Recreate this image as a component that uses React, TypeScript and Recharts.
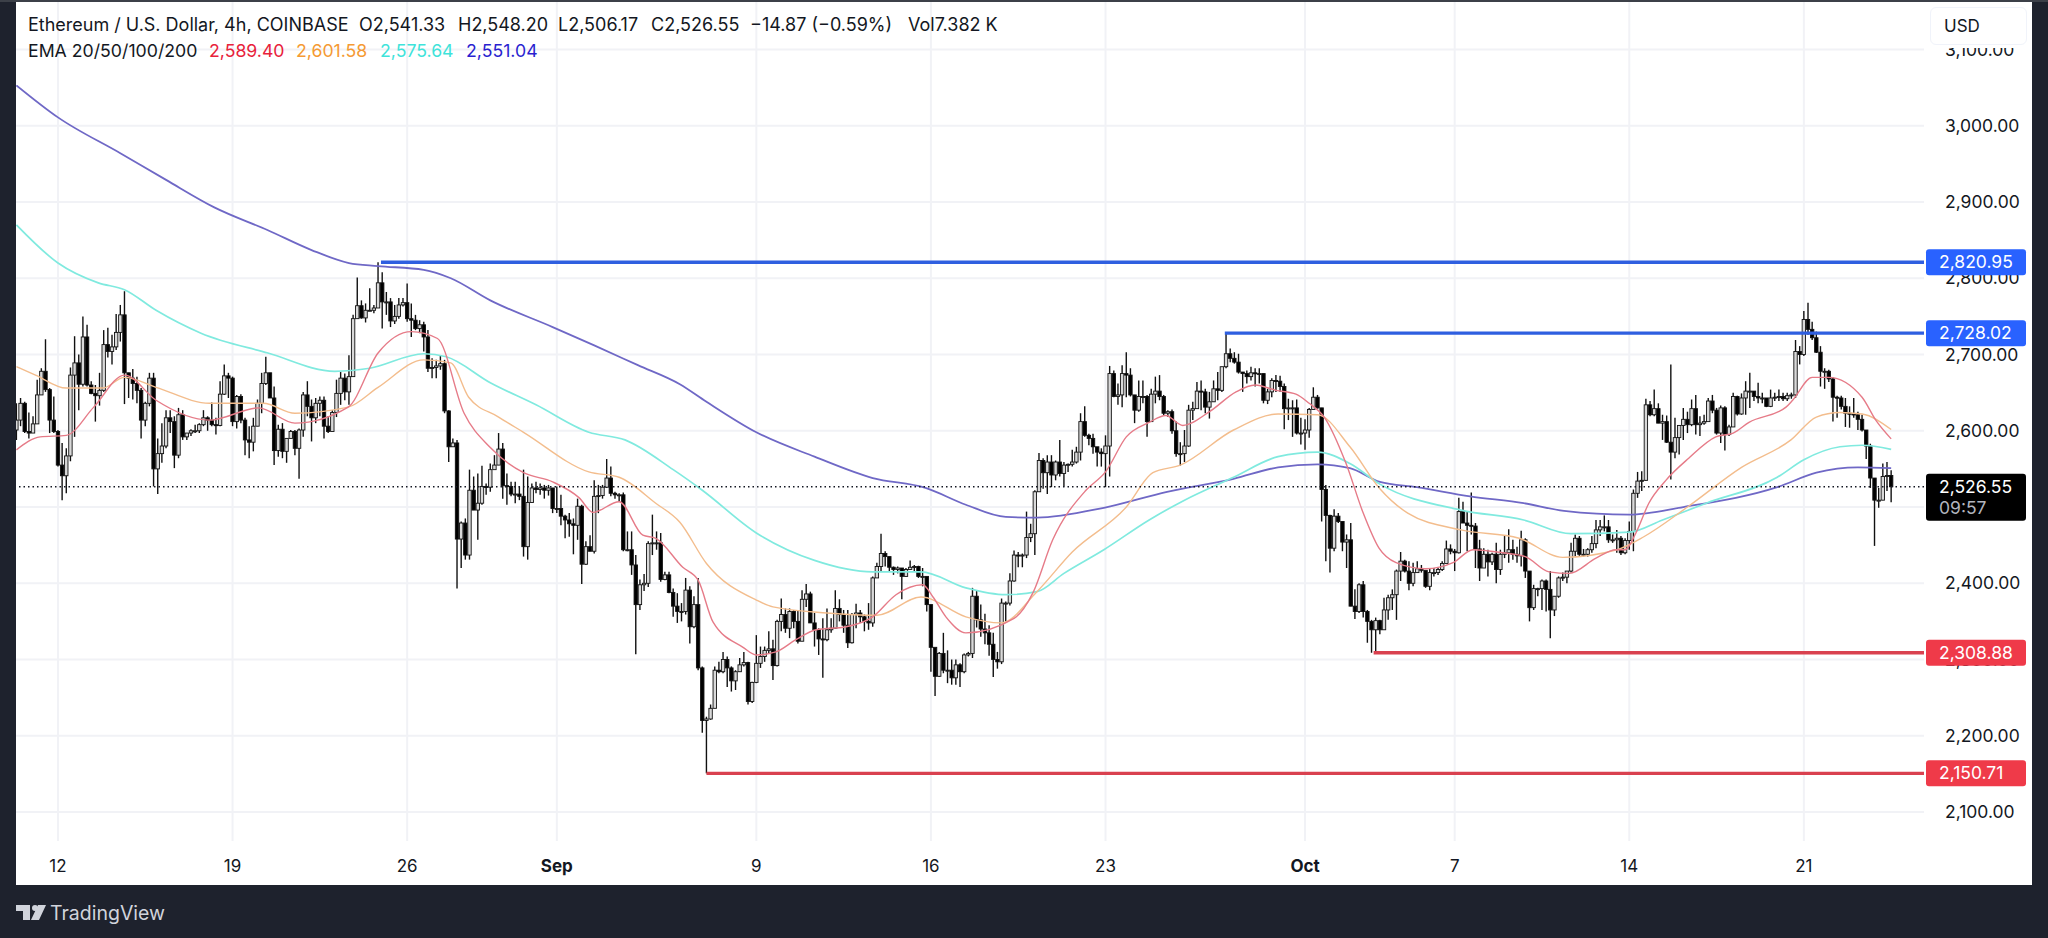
import React from "react";
import { ComposedChart, Bar, Line, XAxis, YAxis, CartesianGrid, ReferenceLine } from "recharts";

const FONT = "Inter, 'Liberation Sans', sans-serif";
const firstBar = -10;
const firstOpen = 2601;

const closes = [
2614,2636,2599,2597,2609,2647,2678,2654,2614,2599,
2555,2541,2567,2673,2689,2661,2723,2660,2649,2646,
2653,2713,2704,2710,2729,2752,2676,2669,2662,2653,
2614,2636,2669,2550,2570,2580,2617,2612,2568,2621,
2592,2597,2600,2600,2608,2617,2614,2608,2607,2648,
2672,2669,2612,2645,2614,2588,2585,2606,2636,2662,
2676,2643,2574,2602,2573,2590,2599,2577,2601,2647,
2632,2617,2636,2640,2606,2599,2624,
2649,2669,2651,2671,2747,2764,2748,2758,2758,2761,
2794,2769,2769,2744,2750,2765,2768,2747,2745,2734,
2739,2723,2682,2683,2685,2688,2626,2579,2584,2458,
2479,2437,2522,2496,2505,2527,2526,2549,2555,2576,
2528,2527,2517,2517,2514,2448,2506,2525,2523,2525,
2522,2525,2498,2498,2488,2483,2478,2476,2501,2425,
2448,2442,2514,2515,2526,2538,2518,2516,2516,2444,
2444,2424,2372,2398,2400,2452,2453,2453,2405,2411,
2388,2370,2363,2363,2391,2343,2372,2289,2220,2222,
2236,2286,2284,2300,2289,2272,2284,2293,2296,2245,
2270,2295,2304,2312,2314,2292,2350,2359,2341,2363,
2350,2324,2379,2386,2348,2339,2327,2326,2339,2341,
2367,2359,2345,2322,2359,2361,2356,2350,2348,2407,
2422,2439,2435,2421,2418,2420,2409,2418,2421,2422,
2409,2409,2372,2316,2278,2308,2286,2286,2276,2293,
2284,2306,2308,2383,2352,2340,2335,2320,2300,2297,
2374,2374,2403,2437,2436,2437,2460,2465,2520,2561,
2545,2559,2542,2559,2544,2555,2556,2559,2572,2612,
2594,2590,2579,2572,2570,2580,2675,2645,2647,2675,
2673,2647,2627,2645,2645,2612,2648,2652,2645,2623,
2625,2600,2570,2570,2580,2627,2629,2652,2651,2631,
2638,2655,2653,2684,2701,2695,2690,2677,2675,2671,
2676,2675,2675,2640,2651,2666,2665,2658,2629,2630,
2630,2597,2597,2601,2628,2644,2630,2523,2489,2446,
2488,2481,2454,2457,2370,2363,2398,2363,2350,2339,
2351,2339,2365,2381,2385,2416,2429,2416,2400,2414,
2419,2417,2396,2414,2414,2418,2426,2445,2442,2440,
2494,2479,2476,2475,2445,2420,2438,2428,2438,2418,
2438,2440,2444,2438,2436,2457,2416,2368,2393,2393,
2403,2392,2365,2383,2407,2408,2416,2442,2459,2438,
2438,2444,2452,2470,2474,2474,2457,2457,2459,2440,
2456,2468,2518,2534,2535,2634,2621,2629,2610,2612,
2585,2572,2591,2607,2615,2608,2629,2608,2610,2612,
2639,2627,2597,2630,2595,2605,2645,2622,2643,2652,
2652,2645,2643,2643,2632,2643,2644,2645,2642,2646,
2647,2704,2700,2746,2733,2722,2703,2678,2678,2668,
2644,2643,2632,2623,2622,2621,2615,2601,2580,2538,
2509,2509,2540,2541.33,2526.55,
];

const highs = [
2636,2643,2638,2624,2619,2667,2682,2720,2656,2645,
2601,2584,2577,2683,2724,2700,2750,2739,2665,2660,
2676,2732,2735,2726,2753,2765,2783,2676,2681,2671,
2656,2638,2676,2676,2590,2610,2627,2627,2619,2630,
2627,2597,2602,2608,2610,2627,2619,2637,2617,2665,
2687,2676,2671,2647,2648,2617,2606,2617,2641,2676,
2697,2676,2658,2608,2610,2590,2601,2601,2603,2651,
2665,2641,2643,2645,2645,2619,2627,
2667,2677,2675,2699,2752,2801,2771,2767,2787,2765,
2820.95,2808,2782,2774,2765,2774,2774,2793,2767,2752,
2745,2743,2732,2695,2693,2699,2693,2627,2590,2588,
2481,2485,2549,2540,2544,2554,2531,2557,2568,2597,
2584,2544,2533,2533,2527,2549,2540,2531,2533,2531,
2529,2529,2518,2527,2516,2490,2492,2485,2511,2503,
2455,2463,2535,2529,2529,2563,2553,2520,2518,2519,
2468,2468,2437,2405,2412,2455,2490,2468,2466,2415,
2415,2393,2387,2374,2407,2396,2383,2407,2291,2225,
2241,2291,2297,2310,2304,2291,2286,2302,2310,2297,
2271,2332,2317,2317,2337,2326,2352,2380,2367,2367,
2365,2365,2391,2399,2389,2361,2341,2354,2367,2354,
2391,2379,2365,2365,2361,2373,2365,2359,2374,2409,
2427,2465,2442,2435,2422,2422,2420,2420,2430,2424,
2423,2420,2409,2372,2315,2310,2335,2312,2300,2300,
2295,2308,2310,2394,2390,2372,2360,2345,2335,2310,
2380,2376,2413,2443,2441,2439,2494,2478,2522,2571,
2564,2568,2568,2561,2588,2559,2557,2575,2579,2623,
2632,2596,2596,2577,2577,2594,2685,2679,2662,2686,
2703,2682,2647,2666,2666,2647,2655,2671,2673,2647,
2627,2628,2612,2585,2601,2634,2638,2664,2666,2655,
2651,2666,2677,2684,2728.02,2708,2703,2701,2677,2679,
2684,2682,2682,2675,2655,2669,2673,2672,2662,2642,
2640,2641,2617,2615,2630,2657,2647,2630,2529,2490,
2497,2492,2481,2464,2479,2392,2400,2403,2365,2352,
2355,2352,2381,2385,2392,2418,2441,2431,2429,2427,
2429,2424,2416,2420,2420,2420,2429,2456,2451,2445,
2512,2507,2494,2519,2479,2457,2446,2444,2440,2453,
2444,2462,2471,2457,2448,2469,2459,2416,2398,2394,
2405,2405,2416,2383,2409,2414,2416,2453,2464,2462,
2445,2446,2462,2483,2483,2489,2483,2464,2470,2462,
2459,2481,2523,2546,2547,2642,2639,2654,2636,2621,
2620,2687,2617,2607,2630,2625,2641,2647,2619,2621,
2643,2647,2630,2633,2632,2608,2650,2646,2649,2665,
2676,2652,2663,2650,2641,2654,2650,2654,2650,2650,
2650,2719,2711,2757,2768,2743,2730,2711,2682,2680,
2670,2646,2646,2643,2632,2643,2625,2621,2601,2583,
2538,2525,2557,2559,2548.2,
];

const lows = [
2588,2606,2597,2590,2597,2609,2647,2651,2597,2597,
2553,2509,2518,2560,2592,2627,2658,2658,2648,2612,
2633,2651,2696,2687,2706,2717,2635,2643,2641,2636,
2590,2606,2632,2527,2517,2558,2577,2597,2551,2564,
2588,2588,2593,2597,2597,2606,2600,2606,2595,2606,
2647,2643,2606,2603,2610,2568,2564,2573,2606,2623,
2660,2643,2555,2566,2564,2558,2590,2568,2537,2592,
2619,2586,2610,2619,2590,2597,2601,
2618,2634,2640,2634,2671,2747,2747,2742,2757,2754,
2765,2734,2752,2736,2740,2747,2763,2743,2723,2732,
2728,2704,2677,2669,2669,2680,2623,2559,2579,2393,
2420,2431,2431,2496,2457,2503,2516,2520,2553,2555,
2511,2503,2514,2505,2509,2435,2431,2506,2518,2516,
2511,2515,2492,2492,2476,2459,2461,2438,2457,2399,
2424,2442,2439,2492,2511,2525,2514,2511,2507,2442,
2442,2411,2307,2365,2390,2395,2437,2444,2402,2404,
2387,2356,2348,2350,2359,2321,2341,2286,2204,2150.71,
2221,2236,2282,2282,2264,2258,2260,2284,2291,2241,
2243,2269,2289,2297,2308,2273,2291,2337,2335,2328,
2341,2321,2324,2369,2348,2317,2306,2276,2324,2335,
2340,2350,2335,2315,2321,2341,2348,2337,2339,2343,
2407,2415,2422,2415,2411,2413,2379,2409,2418,2415,
2407,2396,2363,2284,2252,2277,2282,2269,2267,2267,
2264,2282,2304,2302,2342,2330,2320,2305,2277,2288,
2294,2350,2371,2402,2421,2421,2433,2454,2437,2520,
2524,2517,2526,2535,2540,2527,2546,2553,2557,2561,
2592,2581,2570,2553,2553,2526,2540,2644,2634,2631,
2644,2645,2610,2625,2636,2592,2612,2636,2640,2620,
2618,2596,2566,2554,2559,2579,2614,2629,2627,2623,
2616,2638,2640,2651,2682,2690,2688,2675,2651,2662,
2666,2658,2662,2636,2635,2644,2651,2651,2602,2614,
2592,2595,2582,2575,2591,2628,2629,2481,2429,2414,
2442,2479,2442,2420,2370,2353,2361,2355,2322,2308.88,
2311,2333,2339,2352,2365,2352,2403,2414,2391,2396,
2414,2414,2394,2391,2409,2411,2416,2427,2438,2416,
2439,2479,2442,2464,2420,2403,2422,2409,2424,2400,
2411,2433,2427,2431,2427,2422,2407,2350,2365,2383,
2365,2363,2328,2357,2381,2403,2400,2414,2435,2435,
2435,2435,2440,2446,2462,2468,2453,2453,2440,2437,
2438,2444,2442,2512,2521,2534,2619,2619,2610,2588,
2584,2536,2564,2569,2588,2597,2606,2595,2593,2608,
2619,2623,2595,2584,2574,2593,2606,2620,2621,2621,
2630,2639,2636,2636,2631,2631,2639,2639,2639,2639,
2642,2643,2687,2698,2726,2719,2702,2658,2655,2664,
2612,2617,2628,2605,2604,2617,2601,2599,2563,2525,
2449,2499,2509,2521,2506.17,
];

const ema200 = [
[-10,3053],[0,3011],[15,2964],[26,2929],[37.6,2893],[50.5,2863],[61,2837],[70,2820],[77,2816],[88,2811],[94.5,2800],[104,2771],[119,2736],[129,2712],[139.5,2686],[149.6,2661],[156,2638],[168,2598],[182,2566],[196,2538],[208.7,2525],[218.4,2503],[228,2487],[235.5,2486],[251.6,2499],[266.8,2520],[282.8,2537],[293.5,2552],[303,2556],[310.8,2551],[318,2533],[326.9,2526],[339.7,2514],[352.6,2505],[362.3,2495],[378,2490],[391,2500],[413.6,2526],[423,2545],[433,2552],[441,2551.04],
];
const ema100 = [
[-10,2870],[0,2820],[9.7,2794],[16,2785],[23.6,2758],[34.4,2728],[50.5,2702],[66.6,2678],[75,2682],[88,2701],[93.4,2697],[104,2663],[115,2634],[127.7,2598],[136.4,2588],[148,2549],[155,2522],[168,2466],[182,2430],[196,2415],[207.6,2415],[218.4,2394],[228,2385],[235.5,2389],[242,2413],[251.6,2444],[262.5,2483],[271,2509],[282.8,2539],[293.5,2566],[303,2572],[310.8,2557],[318,2530],[337.5,2496],[352.6,2483],[364,2465],[378,2467],[386,2483],[396.5,2505],[413.6,2539],[420,2562],[428.7,2579],[434,2581],[441,2575.64],
];
const ema50 = [
[-10,2684],[-5.4,2673],[2,2656],[10.7,2656],[16,2670],[23.6,2657],[36.5,2636],[49.4,2636],[57,2623],[69.8,2631],[77,2657],[88,2693],[94.5,2689],[98.8,2644],[106,2618],[112,2598],[127.7,2546],[135,2539],[143.8,2505],[149.6,2480],[156,2426],[168,2378],[172,2369],[185,2361],[197,2358],[207.6,2382],[218.4,2356],[226.9,2348],[235.5,2389],[244,2441],[257,2500],[263.4,2545],[270,2555],[282.8,2601],[293.5,2622],[303,2621],[310.8,2579],[318,2524],[324.7,2492],[337.5,2470],[351.5,2459],[362,2434],[375,2444],[381.5,2461],[392,2500],[405,2552],[416.9,2588],[423,2618],[428.6,2624],[434,2622],[441,2601.58],
];
const ema20 = [
[-10,2575],[-4.3,2592],[2,2594],[8.6,2631],[16,2673],[23.6,2640],[36.5,2614],[48.3,2630],[57,2610],[69.8,2631],[77,2702],[85,2730],[91.3,2721],[97.7,2623],[104,2578],[112,2545],[119,2533],[125.4,2512],[128.7,2493],[135,2507],[140.7,2463],[143.8,2459],[150.3,2421],[154,2404],[157.6,2349],[164.8,2316],[168,2306],[172.7,2310],[177.5,2326],[182.4,2339],[189.6,2343],[196,2356],[201.6,2385],[208,2398],[210.5,2382],[213.6,2356],[218.4,2335],[230,2354],[234.5,2387],[239.3,2457],[247.3,2522],[252,2546],[257,2592],[262.5,2611],[266.5,2620],[270.6,2607],[277,2625],[283.4,2651],[288,2660],[293,2653],[297.8,2648],[301,2636],[304.6,2618],[309.8,2558],[314,2492],[317.8,2446],[321.9,2427],[329,2419],[335.6,2427],[340.4,2444],[347.6,2440],[353,2435],[358.7,2415],[363.6,2413],[370,2433],[374.8,2444],[377,2444],[379.6,2466],[382.7,2505],[386.8,2535],[392.3,2564],[398.8,2592],[403,2597],[406.8,2611],[415.7,2631],[417.3,2640],[422,2670],[426,2670],[434,2644],[437.3,2614],[441,2589.4],
];

const priceTicks = [2100,2200,2300,2400,2500,2600,2700,2800,2900,3000,3100];
const timeTicks = [0,42,84,120,168,210,252,300,336,378,420];
const timeLabels = ["12","19","26","Sep","9","16","23","Oct","7","14","21"];
const monthLabels = ["Sep","Oct"];
const levelsBlue = [{ start: 77.7, price: 2820.95 }, { start: 280.7, price: 2728.02 }];
const levelsRed = [{ start: 316.5, price: 2308.88 }, { start: 156, price: 2150.71 }];
const lastPrice = 2526.55;
const countdown = "09:57";
const rightEnd = 448.9;
const tagPrices = [2150.71, 2308.88, 2526.55, 2728.02, 2820.95];
const tagFills: Record<number, string> = { 2150.71: "#ef3a49", 2308.88: "#ef3a49", 2526.55: "#000", 2728.02: "#2962ff", 2820.95: "#2962ff" };
const Y_DOMAIN = [2062, 3162.3];

const fmt = (v: number) => v.toLocaleString("en-US", { minimumFractionDigits: 2, maximumFractionDigits: 2 });
const candles = closes.map((close, k) => ({
  i: firstBar + k,
  open: k === 0 ? firstOpen : closes[k - 1],
  high: highs[k],
  low: lows[k],
  close,
}));
const toPts = (a: number[][]) => a.map(([i, v]) => ({ i, v }));

function Candle(props: any) {
  const { x, y, width, height, payload } = props;
  const { open, high, low, close } = payload;
  const top = Math.min(y, y + height);
  const h = Math.abs(height);
  const k = h / Math.max(high - low, 0.01);
  const cx = x + width / 2;
  const yO = top + (high - open) * k;
  const yC = top + (high - close) * k;
  const up = close >= open;
  const by = Math.min(yO, yC);
  const bh = Math.max(Math.abs(yO - yC), 1);
  return (
    <g>
      <line x1={cx} x2={cx} y1={top} y2={top + h} stroke="#111" strokeWidth={1.4} />
      <rect x={cx - 1.7} y={by} width={3.4} height={bh} fill={up ? "#d9d9d9" : "#000"} stroke="#111" strokeWidth={0.9} />
    </g>
  );
}

function TagTick(props: any) {
  const { y, payload, plotRight } = props;
  const value = payload.value;
  const isLast = value === lastPrice;
  const tx = plotRight + 15;
  return (
    <g>
      <rect x={plotRight + 2} y={y - 13} width={100} height={isLast ? 47 : 26} rx={3} fill={tagFills[value]} />
      <text x={tx} y={y + 6} fontSize={17.5} fontFamily={FONT} fill="#fff">{fmt(value)}</text>
      {isLast && <text x={tx} y={y + 27} fontSize={17.5} fontFamily={FONT} fill="#b2b5be">{countdown}</text>}
    </g>
  );
}

function TimeTick(props: any) {
  const { x, y, payload } = props;
  const label = timeLabels[timeTicks.indexOf(payload.value)];
  const bold = monthLabels.includes(label);
  return (
    <text x={x} y={y + 23} textAnchor="middle" fontSize={17} fontFamily={FONT} fontWeight={bold ? 700 : 400} fill="#131722">
      {label}
    </text>
  );
}

const head: React.CSSProperties = { position: "absolute", fontFamily: FONT, color: "#131722", whiteSpace: "pre", lineHeight: "20px" };
const line1 = [
  { x: 28, t: "Ethereum / U.S. Dollar, 4h, COINBASE" },
  { x: 359, t: "O2,541.33" },
  { x: 458, t: "H2,548.20" },
  { x: 558, t: "L2,506.17" },
  { x: 651, t: "C2,526.55" },
  { x: 750, t: "−14.87 (−0.59%)" },
  { x: 908, t: "Vol7.382 K" },
];
const line2 = [
  { x: 28, t: "EMA 20/50/100/200", c: "#131722" },
  { x: 209, t: "2,589.40", c: "#e8213a" },
  { x: 296, t: "2,601.58", c: "#f59a33" },
  { x: 380, t: "2,575.64", c: "#3fe3da" },
  { x: 466, t: "2,551.04", c: "#2a1fd0" },
];

export default function App() {
  return (
    <div style={{ position: "absolute", left: 0, top: 0, width: 2048, height: 938, background: "#1e222d", overflow: "hidden" }}>
      <div style={{ position: "absolute", left: 0, top: 0, width: 2048, height: 2, background: "#3c4048" }} />
      <div style={{ position: "absolute", left: 16, top: 2, width: 2016, height: 883, background: "#fff" }} />
      <div style={{ position: "absolute", left: 0, top: 0 }}>
        <ComposedChart width={2048} height={938} data={candles} margin={{ top: 2, left: 16, right: 15, bottom: 53 }}>
          <CartesianGrid stroke="#f1f2f6" strokeWidth={2} syncWithTicks />
          <XAxis
            type="number"
            dataKey="i"
            domain={[firstBar - 0.1, rightEnd]}
            ticks={timeTicks}
            tick={<TimeTick />}
            tickLine={false}
            axisLine={false}
            height={44}
            allowDataOverflow
            interval={0}
          />
          <YAxis
            orientation="right"
            type="number"
            domain={Y_DOMAIN}
            ticks={priceTicks}
            tickFormatter={fmt}
            tick={{ fontSize: 17.5, fontFamily: FONT, fill: "#131722", textAnchor: "start" }}
            tickLine={false}
            axisLine={false}
            width={108}
            tickMargin={15}
            allowDataOverflow
            interval={0}
          />
          <YAxis
            yAxisId="tags"
            orientation="right"
            type="number"
            domain={Y_DOMAIN}
            ticks={tagPrices}
            tick={<TagTick plotRight={1924} />}
            tickLine={false}
            axisLine={false}
            width={1}
            allowDataOverflow
            interval={0}
          />
          <Line data={toPts(ema200)} dataKey="v" type="monotone" stroke="#6f68c6" strokeWidth={1.8} dot={false} isAnimationActive={false} />
          <Line data={toPts(ema100)} dataKey="v" type="monotone" stroke="#80eadf" strokeWidth={1.7} dot={false} isAnimationActive={false} />
          <Line data={toPts(ema50)} dataKey="v" type="monotone" stroke="#f3bd8d" strokeWidth={1.4} dot={false} isAnimationActive={false} />
          <Line data={toPts(ema20)} dataKey="v" type="monotone" stroke="#e67b88" strokeWidth={1.4} dot={false} isAnimationActive={false} />
          <Bar dataKey={(d: any) => [d.low, d.high]} barSize={4} shape={<Candle />} isAnimationActive={false} />
          <ReferenceLine y={lastPrice} stroke="#131722" strokeWidth={1.4} strokeDasharray="1.5 3" ifOverflow="visible" />
          {levelsBlue.map((l) => (
            <ReferenceLine key={l.price} segment={[{ x: l.start, y: l.price }, { x: rightEnd, y: l.price }]} stroke="#2f5fe0" strokeWidth={3.4} ifOverflow="visible" />
          ))}
          {levelsRed.map((l) => (
            <ReferenceLine key={l.price} segment={[{ x: l.start, y: l.price }, { x: rightEnd, y: l.price }]} stroke="#d9414f" strokeWidth={3.4} ifOverflow="visible" />
          ))}
        </ComposedChart>
      </div>
      <div style={{ ...head, fontSize: 18, left: 28, top: 15 }}>
        {line1.map((s) => <span key={s.t} style={{ position: "absolute", left: s.x - 28 }}>{s.t}</span>)}
      </div>
      <div style={{ ...head, fontSize: 17.7, left: 28, top: 41 }}>
        {line2.map((s) => <span key={s.t} style={{ position: "absolute", left: s.x - 28, color: s.c }}>{s.t}</span>)}
      </div>
      <div style={{ position: "absolute", left: 1930, top: 7, width: 97, height: 41, background: "#fff" }} />
      <div style={{ position: "absolute", left: 1930, top: 7, width: 97, height: 38, boxSizing: "border-box", background: "#fff", border: "1px solid #f0f3fa", borderRadius: 6, fontFamily: FONT, fontSize: 17, color: "#131722", lineHeight: "36px", paddingLeft: 13 }}>USD</div>
      <svg style={{ position: "absolute", left: 0, top: 895 }} width={60} height={36}>
        <path d="M16 10 H30 V25 H23 V16 H16 Z" fill="#d1d4dc" />
        <circle cx={35} cy={13} r={3} fill="#d1d4dc" />
        <path d="M38 10 H46 L39 25 H31 Z" fill="#d1d4dc" />
      </svg>
      <div style={{ position: "absolute", left: 50, top: 900, fontFamily: FONT, fontSize: 19.5, color: "#d1d4dc", lineHeight: "26px" }}>TradingView</div>
    </div>
  );
}
